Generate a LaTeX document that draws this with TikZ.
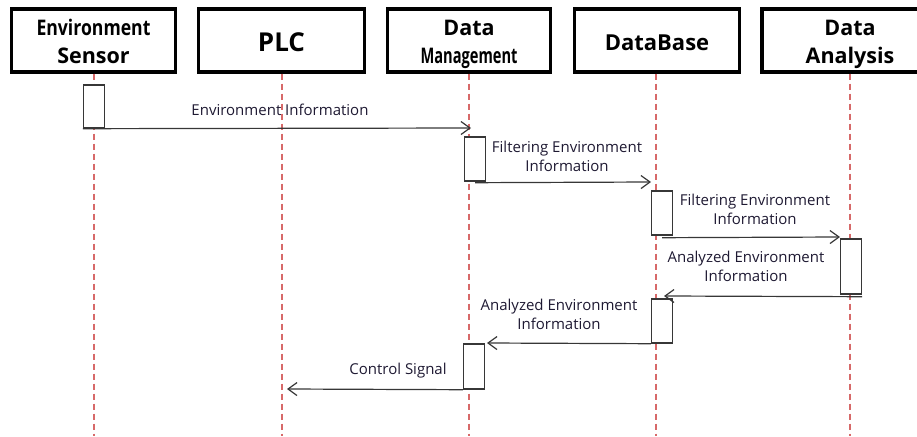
\documentclass[tikz,border=0pt]{standalone}
\usepackage{fontspec}
\setmainfont{Open Sans}
\usetikzlibrary{arrows.meta}
\definecolor{lifered}{RGB}{215,105,105}
\definecolor{msggray}{RGB}{55,55,55}
\definecolor{txt}{RGB}{30,25,50}
\newcommand{\hdtwo}[2]{\raisebox{-4pt}[\height][\depth]{\setlength{\tabcolsep}{0pt}\renewcommand{\arraystretch}{1}\begin{tabular}{c}#1\\[2pt]#2\end{tabular}}}
\newcommand{\hdone}[1]{\raisebox{-2pt}[\height][\depth]{#1}}
\begin{document}
\begin{tikzpicture}[x=1pt,y=-1pt,
  headbox/.style={draw=black,line width=3.2pt,minimum height=63pt,inner sep=0pt,align=center,font=\fontsize{21.5}{26}\selectfont\bfseries},
  lifeline/.style={color=lifered,line width=1.1pt,dash pattern=on 6pt off 4pt},
  actbox/.style={draw=msggray,fill=white,line width=1.4pt,minimum width=21pt,inner sep=0pt},
  msg/.style={draw=msggray,line width=1.2pt,-{Straight Barb[length=9pt,width=13pt,line width=1.2pt]}},
  lbl/.style={text=txt,align=center,inner sep=0pt,font=\fontsize{15}{19}\selectfont}
]
\useasboundingbox (0,0) rectangle (917,436);
\clip (0,0) rectangle (917,436);
% headers
\node[headbox,minimum width=164pt] (h1) at (93.5,40.5) {\hdtwo{\scalebox{0.82}[1]{Environment}}{Sensor}};
\node[headbox,minimum width=166pt,font=\fontsize{26}{28}\selectfont\bfseries] (h2) at (281.5,40.5) {\hdone{PLC}};
\node[headbox,minimum width=163pt] (h3) at (469,40.5) {\hdtwo{Data}{\scalebox{0.68}[1]{Management}}};
\node[headbox,minimum width=165pt,font=\fontsize{22}{24}\selectfont\bfseries] (h4) at (657,40.5) {\hdone{DataBase}};
\node[headbox,minimum width=176pt] (h5) at (850,40.5) {\hdtwo{Data}{Analysis}};
% lifeline ends
\coordinate (e1) at (94,436);
\coordinate (e2) at (282,436);
\coordinate (e3) at (469,436);
\coordinate (e4) at (656,436);
\coordinate (e5) at (850,436);
\draw[lifeline] (h1.south -| e1) -- (e1);
\draw[lifeline] (h2.south -| e2) -- (e2);
\draw[lifeline] (h3.south) -- (e3);
\draw[lifeline] (h4.south -| e4) -- (e4);
\draw[lifeline] (h5.south) -- (e5);
% activations
\node[actbox,minimum height=43pt] (a1) at (94,106.5) {};
\node[actbox,minimum height=44pt] (a2) at (475,159) {};
\node[actbox,minimum height=44pt] (a3) at (662,213) {};
\node[actbox,minimum height=55pt] (a4) at (851,266.5) {};
\node[actbox,minimum height=44pt] (a5) at (662,321) {};
\node[actbox,minimum height=45pt] (a6) at (474,366.5) {};
% message tips
\coordinate (t1) at (471,128);
\coordinate (t2) at (651,182);
\coordinate (t3) at (840,237);
\coordinate (t4) at (664,296);
\coordinate (t5) at (487,343);
\coordinate (t6) at (287,389);
\draw[msg] (a1.south west) -- (t1);
\draw[msg] (a2.south) ++(0,1) -- (t2);
\draw[msg] (a3.south) ++(0,2) -- (t3);
\draw[msg] (a4.south east) ++(0,2) -- (t4);
\draw[msg] (a5.south west) -- (t5);
\draw[msg] (a6.south west) -- (t6);
% labels
\node[lbl] (l1) at (280,110) {Environment Information};
\node[lbl] (l2) at (567,156) {Filtering Environment\\Information};
\node[lbl] (l3) at (755,209) {Filtering Environment\\Information};
\node[lbl] (l4) at (746,266) {Analyzed Environment\\Information};
\node[lbl] (l5) at (559,314) {Analyzed Environment\\Information};
\node[lbl] (l6) at (398,371) {Control Signal};
\end{tikzpicture}
\end{document}
